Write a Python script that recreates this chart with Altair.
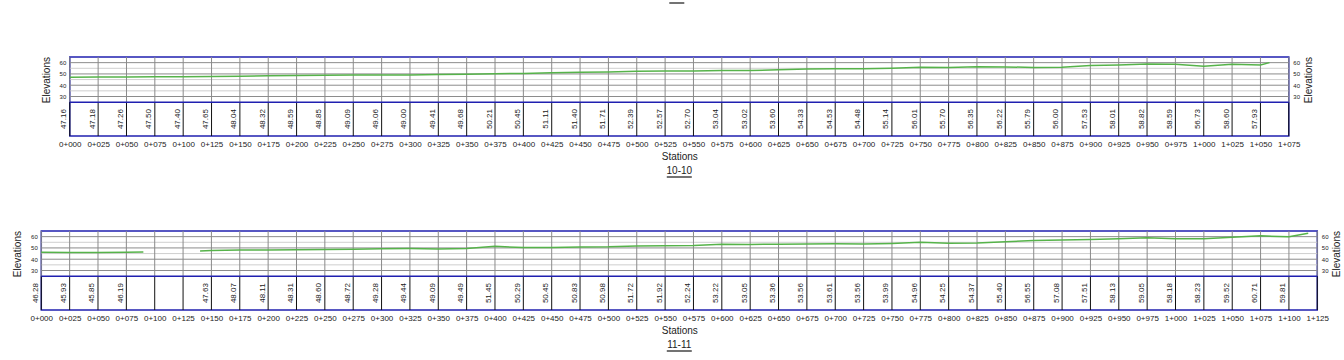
import altair as alt
import pandas as pd

FONT = "Liberation Sans"
BLUE = "#2020b0"
GREEN = "#56b34a"
TXT = "#222222"

# ---------------- Section 10-10 ----------------
s1_max = 1075
s1_label_st = list(range(0, 1051, 25))
s1_label_val = [47.16, 47.18, 47.26, 47.50, 47.40, 47.65, 48.04, 48.32, 48.59, 48.85,
                49.09, 49.06, 49.00, 49.41, 49.68, 50.21, 50.45, 51.11, 51.40, 51.71,
                52.39, 52.57, 52.70, 53.04, 53.02, 53.60, 54.33, 54.53, 54.48, 55.14,
                56.01, 55.70, 56.35, 56.22, 55.79, 56.00, 57.53, 58.01, 58.82, 58.59,
                56.73, 58.60, 57.93]
s1_prof_st = s1_label_st + [1058]
s1_prof_el = s1_label_val + [60.0]
s1_prof_seg = [0] * len(s1_prof_st)

# ---------------- Section 11-11 ----------------
s2_max = 1125
s2_label_st = list(range(0, 1101, 25))
s2_label_val = [46.28, 45.93, 45.85, 46.19, None, None, 47.63, 48.07, 48.11, 48.31,
                48.60, 48.72, 49.28, 49.44, 49.09, 49.49, 51.45, 50.29, 50.45, 50.83,
                50.98, 51.72, 51.92, 52.24, 53.22, 53.05, 53.36, 53.56, 53.61, 53.56,
                53.99, 54.96, 54.25, 54.37, 55.40, 56.55, 57.08, 57.51, 58.13, 59.05,
                58.18, 58.23, 59.52, 60.71, 59.81]
s2_prof_st = [0, 25, 50, 75, 90, 140] + list(range(150, 1101, 25)) + [1117]
s2_prof_el = [46.28, 45.93, 45.85, 46.19, 46.5, 47.3] + s2_label_val[6:] + [63.0]
s2_prof_seg = [0, 0, 0, 0, 0] + [1] * (len(s2_prof_st) - 5)

major_levels = [30, 40, 50, 60]
minor_levels = [35, 45, 55]

PX_PER_STATION = 28.35 / 25.0
Y_DOMAIN = [-5, 65]
HEIGHT = 79


def panel(smax, label_st, label_val, prof_st, prof_el, prof_seg, name, top_mark=False):
    width = round(smax * PX_PER_STATION)
    stations = list(range(0, smax + 1, 25))
    mid = smax / 2
    half_ul = 12.5 / PX_PER_STATION
    sx = alt.Scale(domain=[0, smax], nice=False, zero=False)
    sy = alt.Scale(domain=Y_DOMAIN, nice=False, zero=False)

    xaxis = alt.Axis(
        values=stations,
        labelExpr="floor(datum.value/1000) + '+' + format(datum.value % 1000, '03d')",
        grid=False, ticks=False, domain=False, labelAngle=0,
        labelFlush=False, labelOverlap=False, labelPadding=4,
        labelFont=FONT, labelFontSize=8, labelColor=TXT,
        title="Stations", titleFont=FONT, titleFontSize=10, titleFontWeight="normal",
        titleColor=TXT, titlePadding=3,
    )

    def yaxis(orient):
        return alt.Axis(
            orient=orient, values=major_levels, grid=False, ticks=False, domain=False,
            labelFont=FONT, labelFontSize=6, labelColor=TXT, labelPadding=4,
            title="Elevations", titleFont=FONT, titleFontSize=10, titleFontWeight="normal",
            titleColor=TXT, titleY=22.6, titleAngle=270,
            titleBaseline="bottom" if orient == "left" else "top",
            titlePadding=8 if orient == "left" else 4,
        )

    # every layer carries the same x axis definition so the shared axis merges cleanly
    X = lambda f: alt.X(f, type="quantitative", scale=sx, axis=xaxis)
    Y = lambda f, ax=None: alt.Y(f, type="quantitative", scale=sy, axis=ax)

    df_st = pd.DataFrame({"station": stations, "g0": 25, "g1": 65, "b0": -5, "b1": 25})
    df_major = pd.DataFrame({"lvl": major_levels, "x0": 0, "x1": smax})
    df_minor = pd.DataFrame({"lvl": minor_levels, "x0": 0, "x1": smax})
    df_sep = pd.DataFrame({"lvl": [25], "x0": [0], "x1": [smax]})
    df_prof = pd.DataFrame({"station": prof_st, "elev": prof_el, "seg": prof_seg})
    df_lab = pd.DataFrame({"station": label_st, "val": label_val}).dropna()
    df_lab["ypos"] = 10
    df_name = pd.DataFrame({"t": [name], "xm": [mid], "xa": [mid - half_ul],
                            "xb": [mid + half_ul],
                            "ta": [mid - 10 / PX_PER_STATION], "tb": [mid + 5 / PX_PER_STATION]})

    minor = alt.Chart(df_minor).mark_rule(color="#cfcfcf", strokeWidth=1).encode(
        x=X("x0"), x2="x1", y=Y("lvl", yaxis("right")))
    major = alt.Chart(df_major).mark_rule(color="#8c8c8c", strokeWidth=1).encode(
        x=X("x0"), x2="x1", y=Y("lvl", yaxis("left")))
    vgrid = alt.Chart(df_st).mark_rule(color="#8a8a8a", strokeWidth=1).encode(
        x=X("station"), y=Y("g0"), y2="g1")
    vband = alt.Chart(df_st).mark_rule(color="#111111", strokeWidth=1).encode(
        x=X("station"), y=Y("b0"), y2="b1")
    sep = alt.Chart(df_sep).mark_rule(color=BLUE, strokeWidth=1.5).encode(
        x=X("x0"), x2="x1", y=Y("lvl"))
    line = alt.Chart(df_prof).mark_line(color=GREEN, strokeWidth=1.5).encode(
        x=X("station"), y=Y("elev"), detail="seg:N")
    labels = alt.Chart(df_lab).mark_text(
        angle=270, align="center", baseline="bottom", dy=-1.5,
        font=FONT, fontSize=8, color=TXT).encode(
        x=X("station"), y=Y("ypos"), text=alt.Text("val:Q", format=".2f"))
    title_txt = alt.Chart(df_name).mark_text(
        font=FONT, fontSize=10, color=TXT, baseline="middle", align="center",
        dy=114 - HEIGHT / 2).encode(x=X("xm"), text="t:N")
    underline = alt.Chart(df_name).mark_rule(color="#444444", strokeWidth=1.5).encode(
        x=X("xa"), x2="xb", y=alt.value(120))

    layers = [minor, major, vgrid, vband, sep, line, labels, title_txt, underline]
    if top_mark:
        layers.append(alt.Chart(df_name).mark_rule(
            color="#444444", strokeWidth=1.5).encode(
            x=X("ta"), x2="tb", y=alt.value(-54)))

    return alt.layer(*layers).resolve_axis(y="independent").properties(
        width=width, height=HEIGHT)


top = panel(s1_max, s1_label_st, s1_label_val, s1_prof_st, s1_prof_el, s1_prof_seg,
            "10-10", top_mark=True)
bottom = panel(s2_max, s2_label_st, s2_label_val, s2_prof_st, s2_prof_el, s2_prof_seg,
               "11-11")

chart = alt.vconcat(top, bottom, spacing=50, center=True).properties(
    padding={"left": 11, "top": 1, "right": 0, "bottom": 0},
    background="white",
).configure_view(stroke=BLUE, strokeWidth=1.5)

chart.save("out.html", embed_options={"renderer": "svg", "actions": False})
